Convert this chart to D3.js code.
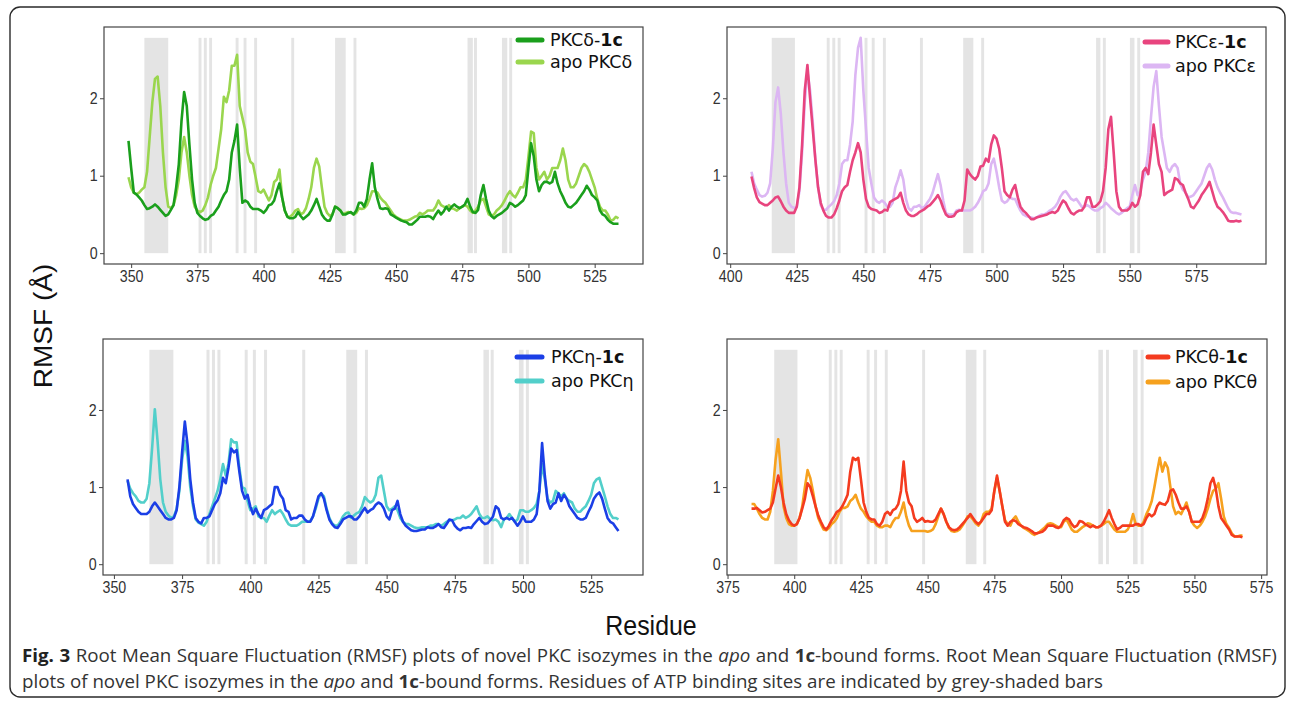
<!DOCTYPE html>
<html><head><meta charset="utf-8">
<script src="https://cdn.jsdelivr.net/npm/d3@7"></script>
<style>html,body{margin:0;padding:0;background:#fff;} svg{display:block;}</style>
</head><body>
<svg id="chart" width="1295" height="706"></svg>
<script>
// ---------------- DATA ----------------
const yTicks = [0, 1, 2];
const bandTop = 2.78;

// PKC delta (residues 349..534)
const deltaStart = 349;
const delta1c = [
 1.45,1.1,0.78,0.76,0.72,0.68,0.62,0.57,0.58,0.6,
 0.63,0.6,0.56,0.52,0.48,0.5,0.56,0.62,0.85,1.15,
 1.7,2.08,1.9,1.4,0.95,0.65,0.52,0.48,0.45,0.43,
 0.44,0.48,0.5,0.55,0.6,0.68,0.75,0.8,0.95,1.3,
 1.45,1.66,1.1,0.65,0.68,0.66,0.6,0.57,0.57,0.57,
 0.55,0.52,0.56,0.62,0.63,0.68,0.8,0.9,0.72,0.55,
 0.47,0.45,0.45,0.47,0.53,0.48,0.44,0.47,0.5,0.55,
 0.62,0.7,0.6,0.5,0.45,0.42,0.42,0.5,0.6,0.58,
 0.55,0.5,0.5,0.52,0.53,0.5,0.55,0.65,0.65,0.6,
 0.7,0.95,1.16,0.85,0.7,0.58,0.57,0.58,0.57,0.5,
 0.48,0.46,0.44,0.42,0.41,0.4,0.37,0.37,0.4,0.43,
 0.47,0.47,0.47,0.48,0.47,0.44,0.5,0.55,0.5,0.54,
 0.6,0.55,0.6,0.63,0.6,0.58,0.6,0.63,0.7,0.6,
 0.53,0.52,0.56,0.75,0.88,0.7,0.55,0.48,0.45,0.48,
 0.5,0.52,0.55,0.58,0.65,0.63,0.6,0.62,0.65,0.68,
 0.75,1.1,1.42,1.25,0.95,0.8,0.88,0.92,0.92,0.9,
 0.92,1.05,0.9,0.8,0.73,0.65,0.6,0.59,0.62,0.65,
 0.7,0.75,0.8,0.87,0.82,0.75,0.72,0.68,0.55,0.5,
 0.48,0.43,0.4,0.38,0.38,0.38
];
const deltaApo = [
 0.98,0.85,0.78,0.76,0.78,0.82,0.85,1.05,1.5,1.95,
 2.25,2.28,1.9,1.3,0.85,0.6,0.58,0.62,0.75,0.95,
 1.3,1.5,1.3,1.0,0.75,0.6,0.55,0.53,0.55,0.62,
 0.72,0.88,1.0,1.1,1.35,1.6,2.02,1.95,2.1,2.42,
 2.42,2.56,1.9,1.75,1.6,1.3,1.18,1.15,0.98,0.8,
 0.78,0.82,0.75,0.68,0.75,0.92,0.95,1.08,0.72,0.55,
 0.47,0.47,0.5,0.55,0.57,0.5,0.52,0.58,0.7,0.85,
 1.1,1.22,1.12,0.85,0.6,0.52,0.48,0.5,0.6,0.58,
 0.55,0.5,0.52,0.53,0.52,0.5,0.52,0.58,0.57,0.58,
 0.62,0.7,0.8,0.8,0.78,0.72,0.68,0.65,0.6,0.55,
 0.5,0.47,0.45,0.43,0.42,0.42,0.43,0.45,0.47,0.48,
 0.52,0.5,0.52,0.55,0.55,0.55,0.6,0.68,0.62,0.6,
 0.58,0.62,0.58,0.57,0.55,0.58,0.6,0.62,0.6,0.55,
 0.52,0.55,0.6,0.68,0.7,0.6,0.5,0.48,0.5,0.55,
 0.58,0.62,0.68,0.75,0.8,0.75,0.72,0.78,0.85,0.85,
 0.95,1.25,1.57,1.55,1.1,0.95,1.0,1.05,0.95,1.0,
 1.1,1.1,1.1,1.2,1.35,1.2,0.95,0.85,0.85,0.9,
 1.0,1.1,1.15,1.12,1.05,0.95,0.85,0.7,0.6,0.55,
 0.55,0.5,0.42,0.43,0.47,0.45
];
const deltaBands = [[355,364],[427,431],[477,479],[490,492]];
const deltaLines = [376,378,380,390,393,397,411,434.5,480,493.3];
const deltaTicks = [350,375,400,425,450,475,500,525];

// PKC epsilon (residues 408..592)
const epsStart = 408;
const eps1c = [
 0.99,0.84,0.72,0.66,0.64,0.62,0.62,0.65,0.68,0.72,
 0.73,0.67,0.6,0.55,0.52,0.52,0.52,0.6,0.85,1.4,
 2.1,2.43,2.0,1.6,1.2,0.85,0.65,0.55,0.48,0.46,
 0.46,0.5,0.58,0.68,0.8,0.85,0.88,1.05,1.2,1.3,
 1.42,1.3,0.95,0.7,0.6,0.57,0.56,0.55,0.52,0.53,
 0.56,0.55,0.66,0.68,0.7,0.72,0.78,0.65,0.55,0.5,
 0.48,0.48,0.5,0.53,0.55,0.57,0.6,0.62,0.66,0.7,
 0.75,0.68,0.58,0.5,0.47,0.47,0.48,0.53,0.55,0.55,
 0.68,1.08,1.02,0.98,0.95,1.0,1.12,1.13,1.22,1.18,
 1.4,1.52,1.48,1.35,1.1,0.8,0.75,0.72,0.82,0.88,
 0.72,0.6,0.55,0.52,0.48,0.44,0.44,0.46,0.47,0.48,
 0.49,0.5,0.52,0.53,0.52,0.55,0.62,0.68,0.65,0.58,
 0.52,0.5,0.53,0.55,0.55,0.6,0.72,0.72,0.6,0.6,
 0.63,0.67,0.8,1.1,1.6,1.76,1.3,0.8,0.6,0.55,
 0.55,0.55,0.58,0.65,0.6,0.63,0.75,1.05,1.1,1.02,
 1.3,1.66,1.4,1.15,1.05,0.75,0.78,0.8,0.82,0.97,
 0.95,0.9,0.88,0.78,0.7,0.6,0.58,0.63,0.68,0.75,
 0.8,0.85,0.92,0.8,0.68,0.6,0.57,0.53,0.48,0.42,
 0.41,0.41,0.42,0.41,0.42
];
const epsApo = [
 1.05,0.9,0.82,0.75,0.73,0.74,0.78,0.9,1.35,1.95,
 2.14,1.8,1.3,0.9,0.65,0.6,0.58,0.6,0.8,1.3,
 1.95,2.35,2.1,1.7,1.2,0.85,0.62,0.56,0.56,0.6,
 0.63,0.67,0.75,0.9,1.15,1.2,1.2,1.4,1.7,2.3,
 2.65,2.78,2.1,1.6,1.1,0.9,0.72,0.67,0.65,0.68,
 0.65,0.6,0.6,0.65,0.85,0.95,1.07,0.95,0.7,0.58,
 0.55,0.6,0.6,0.62,0.58,0.6,0.65,0.7,0.78,0.9,
 1.02,0.88,0.68,0.52,0.5,0.5,0.5,0.55,0.56,0.55,
 0.55,0.55,0.55,0.57,0.6,0.65,0.72,0.8,0.82,0.9,
 1.15,1.22,1.05,0.85,0.68,0.65,0.67,0.72,0.7,0.7,
 0.62,0.55,0.5,0.48,0.47,0.46,0.45,0.46,0.48,0.5,
 0.5,0.52,0.55,0.57,0.6,0.65,0.73,0.78,0.8,0.75,
 0.7,0.68,0.7,0.65,0.6,0.6,0.62,0.6,0.57,0.55,
 0.55,0.58,0.6,0.65,0.62,0.58,0.55,0.52,0.5,0.52,
 0.55,0.58,0.6,0.75,0.88,0.75,0.8,0.95,1.05,1.3,
 1.75,2.15,2.35,1.9,1.5,1.3,1.1,1.05,1.12,1.15,
 1.1,0.9,0.82,0.78,0.72,0.73,0.75,0.8,0.85,0.9,
 1.0,1.1,1.15,1.08,0.95,0.85,0.78,0.72,0.65,0.58,
 0.53,0.52,0.52,0.51,0.5
];
const epsBands = [[415.6,424.3],[487.5,491.3],[537.4,539],[550.1,551.8]];
const epsLines = [436.8,438.9,440.9,451,453.7,457.9,471.8,494.8,540.5,553.4];
const epsTicks = [400,425,450,475,500,525,550,575];

// PKC eta (residues 355..535)
const etaStart = 355;
const eta1c = [
 1.1,0.88,0.78,0.73,0.68,0.65,0.65,0.65,0.68,0.75,
 0.8,0.75,0.7,0.65,0.6,0.58,0.58,0.6,0.7,1.0,
 1.45,1.85,1.55,1.1,0.8,0.6,0.55,0.53,0.6,0.6,
 0.62,0.7,0.78,0.83,0.92,1.12,1.05,1.25,1.5,1.45,
 1.48,1.2,0.95,0.85,0.9,0.75,0.65,0.72,0.65,0.6,
 0.7,0.72,0.75,0.78,1.0,1.0,0.9,0.85,0.7,0.68,
 0.58,0.6,0.6,0.63,0.63,0.58,0.55,0.55,0.62,0.75,
 0.88,0.92,0.85,0.7,0.58,0.52,0.48,0.47,0.52,0.58,
 0.6,0.62,0.62,0.58,0.58,0.62,0.68,0.73,0.67,0.7,
 0.72,0.77,0.8,0.78,0.72,0.62,0.58,0.7,0.72,0.82,
 0.65,0.55,0.5,0.47,0.44,0.43,0.43,0.44,0.45,0.45,
 0.48,0.47,0.47,0.49,0.52,0.48,0.47,0.52,0.58,0.57,
 0.5,0.46,0.44,0.47,0.47,0.48,0.47,0.52,0.56,0.6,
 0.55,0.52,0.53,0.57,0.62,0.75,0.72,0.6,0.58,0.6,
 0.58,0.6,0.55,0.5,0.55,0.62,0.55,0.55,0.55,0.58,
 0.65,0.95,1.57,1.15,0.82,0.72,0.78,0.8,0.92,0.82,
 0.9,0.85,0.75,0.7,0.65,0.6,0.58,0.58,0.6,0.68,
 0.75,0.85,0.9,0.93,0.85,0.72,0.6,0.55,0.53,0.48,
 0.43
];
const etaApo = [
 1.08,0.98,0.92,0.88,0.82,0.8,0.8,0.85,1.05,1.5,
 2.01,1.6,1.1,0.8,0.68,0.63,0.6,0.62,0.72,0.95,
 1.35,1.6,1.4,1.0,0.75,0.58,0.54,0.52,0.5,0.55,
 0.65,0.75,0.85,0.95,1.1,1.3,1.15,1.3,1.62,1.58,
 1.58,1.25,1.0,0.98,0.82,0.7,0.72,0.75,0.62,0.6,
 0.6,0.55,0.63,0.7,0.65,0.68,0.7,0.65,0.58,0.52,
 0.5,0.5,0.5,0.52,0.55,0.55,0.55,0.56,0.62,0.72,
 0.85,0.92,0.88,0.72,0.6,0.53,0.5,0.5,0.55,0.62,
 0.66,0.67,0.6,0.63,0.66,0.68,0.75,0.87,0.83,0.8,
 0.82,0.9,1.12,1.15,0.95,0.75,0.7,0.72,0.75,0.7,
 0.6,0.55,0.52,0.52,0.5,0.48,0.47,0.47,0.48,0.48,
 0.48,0.5,0.5,0.52,0.52,0.5,0.52,0.55,0.57,0.57,
 0.58,0.6,0.6,0.63,0.6,0.62,0.65,0.7,0.75,0.65,
 0.6,0.6,0.62,0.58,0.57,0.58,0.55,0.48,0.58,0.6,
 0.65,0.6,0.55,0.58,0.7,0.7,0.68,0.68,0.7,0.73,
 0.78,0.95,1.3,1.1,0.85,0.8,0.82,0.95,0.92,0.88,
 0.92,0.85,0.82,0.8,0.72,0.68,0.68,0.72,0.75,0.82,
 0.9,1.05,1.1,1.12,1.0,0.88,0.75,0.65,0.6,0.6,
 0.58
];
const etaBands = [[363,371.8],[435.2,439.2],[485.5,487.5],[498.5,500.2]];
const etaLines = [384.5,386.5,388.5,398.5,401.5,405.6,419.6,442.6,488.7,501.6];
const etaTicks = [350,375,400,425,450,475,500,525];

// PKC theta (residues 384..568)
const thetaStart = 384;
const theta1c = [
 0.72,0.72,0.73,0.7,0.67,0.68,0.7,0.72,0.8,0.98,
 1.15,1.0,0.8,0.65,0.57,0.52,0.5,0.52,0.6,0.72,
 0.85,1.05,1.0,0.88,0.75,0.63,0.55,0.48,0.45,0.5,
 0.57,0.62,0.68,0.7,0.75,0.82,0.9,1.2,1.38,1.35,
 1.38,1.1,0.8,0.68,0.6,0.58,0.58,0.52,0.5,0.55,
 0.65,0.68,0.64,0.7,0.72,0.78,0.95,1.33,0.95,0.8,
 0.75,0.6,0.55,0.57,0.6,0.55,0.56,0.55,0.55,0.58,
 0.65,0.72,0.65,0.55,0.48,0.45,0.44,0.45,0.48,0.52,
 0.56,0.6,0.65,0.6,0.55,0.52,0.55,0.6,0.65,0.65,
 0.7,0.95,1.15,0.95,0.75,0.55,0.5,0.55,0.57,0.56,
 0.52,0.5,0.48,0.47,0.45,0.43,0.4,0.4,0.41,0.42,
 0.45,0.5,0.5,0.5,0.48,0.47,0.5,0.57,0.6,0.58,
 0.52,0.48,0.5,0.56,0.55,0.52,0.5,0.48,0.5,0.48,
 0.48,0.5,0.55,0.62,0.7,0.6,0.52,0.45,0.47,0.5,
 0.5,0.5,0.5,0.5,0.52,0.52,0.5,0.52,0.6,0.65,
 0.62,0.65,0.75,0.8,0.78,0.77,0.82,0.95,0.97,0.9,
 0.8,0.72,0.72,0.75,0.68,0.55,0.55,0.55,0.55,0.6,
 0.7,0.85,1.05,1.12,0.98,0.75,0.6,0.55,0.5,0.45,
 0.38,0.36,0.36,0.36,0.35
];
const thetaApo = [
 0.78,0.78,0.72,0.65,0.6,0.58,0.58,0.68,0.95,1.35,
 1.62,1.2,0.75,0.6,0.52,0.5,0.5,0.52,0.6,0.75,
 1.0,1.22,1.12,0.95,0.75,0.6,0.52,0.45,0.44,0.47,
 0.52,0.55,0.6,0.68,0.73,0.73,0.75,0.82,0.85,0.9,
 0.8,0.72,0.68,0.62,0.58,0.55,0.55,0.5,0.48,0.48,
 0.5,0.5,0.48,0.55,0.6,0.6,0.68,0.8,0.62,0.5,
 0.43,0.43,0.43,0.43,0.43,0.43,0.42,0.43,0.45,0.52,
 0.62,0.72,0.65,0.55,0.47,0.43,0.42,0.43,0.45,0.5,
 0.55,0.62,0.62,0.58,0.53,0.5,0.55,0.65,0.68,0.68,
 0.72,0.95,1.12,0.95,0.75,0.57,0.52,0.5,0.58,0.62,
 0.55,0.5,0.47,0.45,0.43,0.4,0.38,0.4,0.42,0.45,
 0.48,0.52,0.53,0.52,0.5,0.48,0.48,0.55,0.58,0.52,
 0.45,0.42,0.42,0.45,0.48,0.5,0.53,0.52,0.5,0.48,
 0.48,0.5,0.52,0.55,0.55,0.5,0.45,0.42,0.42,0.42,
 0.42,0.45,0.52,0.65,0.52,0.5,0.5,0.55,0.65,0.72,
 0.82,1.0,1.2,1.38,1.2,1.32,1.25,1.0,0.75,0.65,
 0.68,0.65,0.72,0.8,0.68,0.55,0.5,0.47,0.5,0.55,
 0.62,0.72,0.85,0.95,0.98,1.05,0.85,0.62,0.52,0.47,
 0.4,0.36,0.36,0.37,0.37
];
const thetaBands = [[392.5,401.2],[464.3,468.3],[514,515.7],[527,528.7]];
const thetaLines = [413.5,415.6,417.6,427.7,430.5,434.5,448.5,471.4,517.4,530.4];
const thetaTicks = [375,400,425,450,475,500,525,550,575];

// ---------------- DRAWING ----------------
const svg = d3.select('#chart');
svg.append('rect').attr('x', 10).attr('y', 7).attr('width', 1275).attr('height', 690)
  .attr('rx', 10).attr('fill', 'none').attr('stroke', '#2a2a2a').attr('stroke-width', 1.4);

const panels = [
  {start: deltaStart, c1: delta1c, apo: deltaApo, bands: deltaBands, lines: deltaLines, ticks: deltaTicks,
   sym: 'δ', c1Color: '#1a9f1c', apoColor: '#9ad64e',
   box: {l:104, r:643, t:27, b:264}, leg: {x1:518, x2:542, tx:550, ys:[40, 62]}},
  {start: epsStart, c1: eps1c, apo: epsApo, bands: epsBands, lines: epsLines, ticks: epsTicks,
   sym: 'ε', c1Color: '#e8447e', apoColor: '#dcb6f3',
   box: {l:727, r:1266, t:27, b:264}, leg: {x1:1145, x2:1168, tx:1175, ys:[42, 66]}},
  {start: etaStart, c1: eta1c, apo: etaApo, bands: etaBands, lines: etaLines, ticks: etaTicks,
   sym: 'η', c1Color: '#1b3fe6', apoColor: '#52cfca',
   box: {l:103, r:643, t:339, b:575}, leg: {x1:517, x2:542, tx:551, ys:[357, 381]}},
  {start: thetaStart, c1: theta1c, apo: thetaApo, bands: thetaBands, lines: thetaLines, ticks: thetaTicks,
   sym: 'θ', c1Color: '#f43b1f', apoColor: '#f6a11e',
   box: {l:727, r:1267, t:339, b:575}, leg: {x1:1148, x2:1168, tx:1175, ys:[357, 382]}}
];

const sansFont = '"Liberation Sans", Arial, sans-serif';
const squeeze = 0.89;

panels.forEach(p => {
  const n = p.c1.length;
  const end = p.start + n - 1;
  const pad = (end - p.start) * 0.05;
  const xs = d3.scaleLinear().domain([p.start - pad, end + pad]).range([p.box.l, p.box.r]);
  const ys = d3.scaleLinear().domain([-0.14, 2.92]).range([p.box.b, p.box.t]);
  const g = svg.append('g');

  // shaded ATP-binding residues
  g.selectAll('rect.band').data(p.bands).join('rect').attr('class', 'band')
    .attr('x', d => xs(d[0])).attr('width', d => xs(d[1]) - xs(d[0]))
    .attr('y', ys(bandTop)).attr('height', ys(0) - ys(bandTop))
    .attr('fill', '#e4e4e4');
  g.selectAll('rect.bline').data(p.lines).join('rect').attr('class', 'bline')
    .attr('x', d => xs(d - 0.55)).attr('width', d => xs(d + 0.55) - xs(d - 0.55))
    .attr('y', ys(bandTop)).attr('height', ys(0) - ys(bandTop))
    .attr('fill', '#e4e4e4');

  const line = d3.line().x((d, i) => xs(p.start + i)).y(d => ys(d));
  g.append('path').datum(p.apo).attr('d', line).attr('fill', 'none')
    .attr('stroke', p.apoColor).attr('stroke-width', 2.6).attr('stroke-linejoin', 'round');
  g.append('path').datum(p.c1).attr('d', line).attr('fill', 'none')
    .attr('stroke', p.c1Color).attr('stroke-width', 2.6).attr('stroke-linejoin', 'round');

  // frame
  g.append('rect').attr('x', p.box.l).attr('y', p.box.t)
    .attr('width', p.box.r - p.box.l).attr('height', p.box.b - p.box.t)
    .attr('fill', 'none').attr('stroke', '#444').attr('stroke-width', 1.2);

  // axes
  const xa = g.append('g').attr('transform', `translate(0,${p.box.b})`)
    .call(d3.axisBottom(xs).tickValues(p.ticks).tickSize(4).tickPadding(3).tickFormat(d3.format('d')));
  const ya = g.append('g').attr('transform', `translate(${p.box.l},0)`)
    .call(d3.axisLeft(ys).tickValues(yTicks).tickSize(4).tickPadding(3).tickFormat(d3.format('d')));
  [xa, ya].forEach(a => {
    a.select('.domain').remove();
    a.selectAll('line').attr('stroke', '#444');
    a.selectAll('text').attr('fill', '#333').style('font-family', sansFont)
      .style('font-size', '16px').attr('transform', `scale(${squeeze},1)`);
  });

  // legend
  const items = [
    {color: p.c1Color, parts: [{t: 'PKC' + p.sym + '-'}, {t: '1c', b: true}]},
    {color: p.apoColor, parts: [{t: 'apo PKC' + p.sym}]}
  ];
  items.forEach((it, k) => {
    const y = p.leg.ys[k];
    g.append('line').attr('x1', p.leg.x1).attr('x2', p.leg.x2).attr('y1', y).attr('y2', y)
      .attr('stroke', it.color).attr('stroke-width', 5).attr('stroke-linecap', 'round');
    const t = g.append('text').attr('x', p.leg.tx).attr('y', y + 6)
      .style('font-family', '"DejaVu Sans", Verdana, sans-serif').style('font-size', '17.5px').attr('fill', '#111');
    it.parts.forEach(pt => t.append('tspan').text(pt.t).attr('font-weight', pt.b ? 'bold' : null));
  });
});

// axis titles
svg.append('text').attr('transform', `translate(52,326) scale(${squeeze},1) rotate(-90)`).attr('text-anchor', 'middle')
  .style('font-family', sansFont).style('font-size', '28px').attr('fill', '#111')
  .text('RMSF (Å)');
svg.append('text').attr('transform', `translate(651,635) scale(${squeeze},1)`).attr('text-anchor', 'middle')
  .style('font-family', sansFont).style('font-size', '28px').attr('fill', '#111')
  .text('Residue');

// caption (condensed type, first line justified to the frame)
const capLines = [
  [{t: 'Fig. 3', b: true}, {t: ' Root Mean Square Fluctuation (RMSF) plots of novel PKC isozymes in the '}, {t: 'apo', i: true},
   {t: ' and '}, {t: '1c', b: true}, {t: '-bound forms. Root Mean Square Fluctuation (RMSF)'}],
  [{t: 'plots of novel PKC isozymes in the '}, {t: 'apo', i: true}, {t: ' and '}, {t: '1c', b: true},
   {t: '-bound forms. Residues of ATP binding sites are indicated by grey-shaded bars'}]
];
const capX = 22, capY = [662, 688], capW1 = 1256, capW2 = 1082;
const capNodes = capLines.map((parts, k) => {
  const t = svg.append('text').attr('x', 0).attr('y', 0)
    .style('font-family', '"Open Sans", sans-serif').style('font-size', '18.5px').attr('fill', '#333');
  parts.forEach(pt => t.append('tspan').text(pt.t)
    .attr('font-weight', pt.b ? 'bold' : null).attr('font-style', pt.i ? 'italic' : null)
    .attr('fill', pt.b && pt.t.startsWith('Fig') ? '#222' : null));
  return t;
});
const w2 = capNodes[1].node().getComputedTextLength();
const sx = capW2 / w2;
const w1 = capNodes[0].node().getComputedTextLength();
const nSpaces = capLines[0].map(p => p.t).join('').split(' ').length - 1;
const extra = Math.max(0, (capW1 / sx - w1) / nSpaces);
capNodes[0].style('word-spacing', extra + 'px');
capNodes.forEach((t, k) => t.attr('transform', `translate(${capX},${capY[k]}) scale(${sx},1)`));
</script>
</body></html>
